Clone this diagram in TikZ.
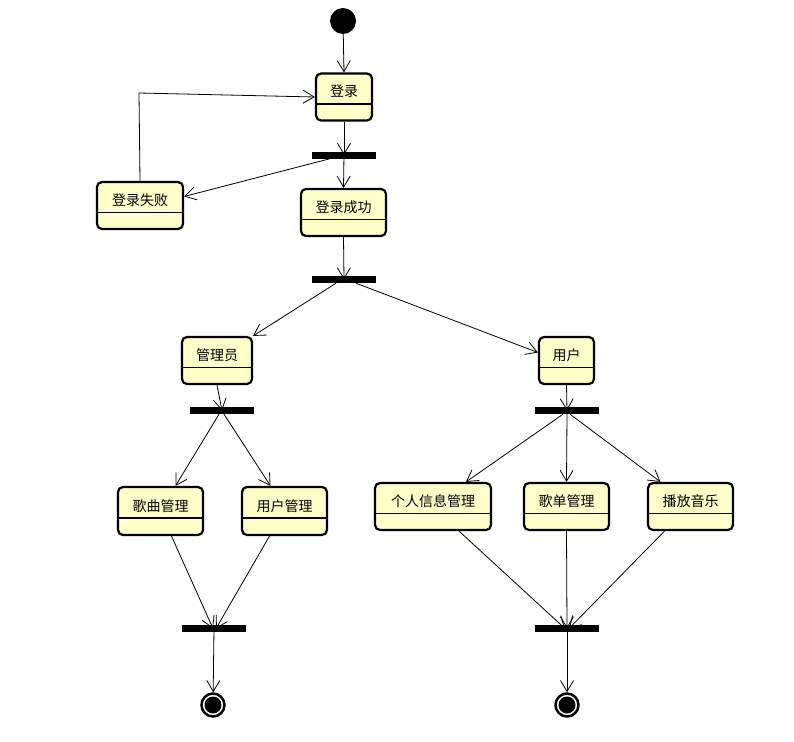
\documentclass[tikz,border=0pt]{standalone}
\usepackage{fontspec}
\newfontfamily\cjk{Noto Sans CJK SC}
\usepackage{tikz}
\usetikzlibrary{arrows.meta, calc, positioning}
\usepackage{xcolor}
\definecolor{statefill}{HTML}{FFFFCA}

\begin{document}
\begin{tikzpicture}[x=1pt, y=-1pt,
    state/.style={draw, line width=2.2pt, rounded corners=5pt, fill=statefill,
        minimum height=47pt, text height=6pt, text depth=6pt, inner sep=0pt,
        font=\cjk\fontsize{14}{16}\selectfont,
        path picture={\draw[line width=1.2pt] ([yshift=-7pt]path picture bounding box.west) -- ([yshift=-7pt]path picture bounding box.east);}},
    bar/.style={fill=black, minimum width=64pt, minimum height=7pt, inner sep=0pt},
    init/.style={circle, fill=black, minimum size=26pt, inner sep=0pt},
    final/.style={circle, draw=black, line width=2.5pt, fill=white, minimum size=23pt, inner sep=0pt,
        path picture={\fill[black] (path picture bounding box.center) circle (8.5pt);}},
    flow/.style={draw, line width=0.8pt, -{Straight Barb[length=11pt, width=13pt, line width=0.8pt]}},
    line/.style={draw, line width=0.8pt}]
    \useasboundingbox (0,0) rectangle (794,741);

    % 起点与登录
    \node[init] (init) at (343,21) {};
    \node[state, minimum width=56pt] (login) at (344,97) {登录};
    \node[bar] (bar1) at (344,155) {};
    \node[state, minimum width=86pt] (fail) at (140,205.5) {登录失败};
    \node[state, minimum width=85pt] (success) at (343.5,212.5) {登录成功};
    \node[bar] (bar2) at (344,279.5) {};

    % 角色
    \node[state, minimum width=70pt] (admin) at (217,360.5) {管理员};
    \node[state, minimum width=55pt] (user) at (566.5,360.5) {用户};
    \node[bar] (bar3) at (222,410.5) {};
    \node[bar] (bar4) at (567,410.5) {};

    % 功能
    \node[state, minimum width=85pt, minimum height=48pt] (songm) at (160.5,511) {歌曲管理};
    \node[state, minimum width=85pt, minimum height=48pt] (userm) at (284.5,511) {用户管理};
    \node[state, minimum width=116pt] (info) at (433,506.5) {个人信息管理};
    \node[state, minimum width=85pt] (list) at (566.5,506.5) {歌单管理};
    \node[state, minimum width=85pt] (play) at (690.5,506.5) {播放音乐};

    % 汇合与终点
    \node[bar] (bar5) at (214,628.5) {};
    \node[bar] (bar6) at (567,628.5) {};
    \node[final] (final1) at (213,705) {};
    \node[final] (final2) at (567,705) {};
    \coordinate (loopbend) at (139,93);

    % 连线
    \draw[flow] (init) -- (login.north);
    \draw[flow] (login.south) -- (bar1.center);
    \draw[flow] (bar1.center) -- (success.north);
    \draw[flow] ([xshift=-14pt]bar1.south) -- ([yshift=9pt]fail.east);
    \draw[line] (fail.north) -- (loopbend);
    \draw[flow] (loopbend) -- (login.west);
    \draw[flow] (success.south) -- (bar2.center);
    \draw[flow] ([xshift=-8pt]bar2.south) -- (admin.north east);
    \draw[flow] ([xshift=12pt]bar2.south) -- ([yshift=8pt]user.west);
    \draw[flow] (admin.south) -- (bar3.center);
    \draw[flow] (user.south) -- (bar4.center);
    \draw[flow] ([xshift=-3pt]bar3.south) -- ([xshift=15pt]songm.north);
    \draw[flow] ([xshift=2pt]bar3.south) -- ([xshift=-14pt]userm.north);
    \draw[flow] ([xshift=-4pt]bar4.south) -- ([xshift=33pt]info.north);
    \draw[flow] (bar4.south) -- (list.north);
    \draw[flow] ([xshift=3pt]bar4.south) -- ([xshift=-30pt]play.north);
    \draw[flow] ([xshift=11pt]songm.south) -- ([xshift=-1pt]bar5.center);
    \draw[flow] ([xshift=-15pt]userm.south) -- ([xshift=2pt]bar5.center);
    \draw[flow] ([xshift=26pt]info.south) -- ([xshift=-2pt]bar6.center);
    \draw[flow] (list.south) -- (bar6.center);
    \draw[flow] ([xshift=-26pt]play.south) -- ([xshift=2pt]bar6.center);
    \draw[flow] (bar5.center) -- (final1);
    \draw[flow] (bar6.center) -- (final2);
\end{tikzpicture}
\end{document}
